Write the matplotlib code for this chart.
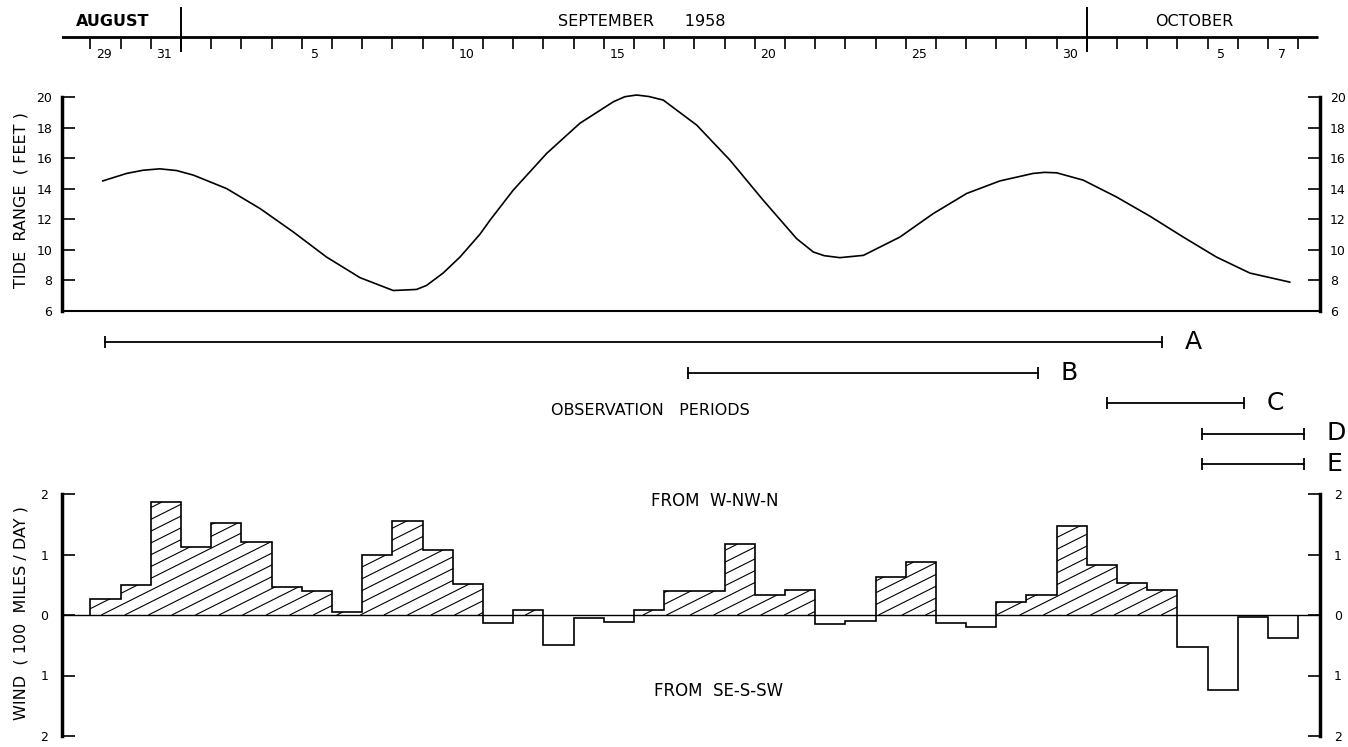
import numpy as np
import matplotlib
matplotlib.use('Agg')
import matplotlib.pyplot as plt
from matplotlib.collections import LineCollection

plt.rcParams['font.family'] = ['DejaVu Sans']

#%% data  (time axis in days, 0 = start of 1 September 1958)
tide_day = [-2.59, -1.80, -1.25, -0.70, -0.15, 0.41, 1.51, 2.62, 3.72, 4.82,
            5.93, 7.03, 7.80, 8.13, 8.68, 9.24, 9.90, 10.23, 11.00, 12.11,
            13.21, 14.32, 14.70, 15.09, 15.50, 15.97, 17.08, 18.18, 19.28, 20.39,
            20.94, 21.30, 21.82, 22.60, 23.81, 24.91, 26.02, 27.12, 28.22, 28.60,
            29.00, 29.88, 30.98, 32.09, 33.19, 34.29, 35.40, 36.72]
tide_ft = [14.51, 15.00, 15.21, 15.30, 15.19, 14.89, 14.01, 12.70, 11.17, 9.53,
           8.18, 7.34, 7.41, 7.67, 8.48, 9.53, 11.02, 11.93, 13.90, 16.31,
           18.28, 19.69, 20.02, 20.13, 20.03, 19.80, 18.16, 15.87, 13.25, 10.73,
           9.86, 9.62, 9.49, 9.64, 10.84, 12.37, 13.69, 14.51, 15.00, 15.07,
           15.04, 14.56, 13.46, 12.20, 10.84, 9.53, 8.48, 7.89]

# daily wind (100 miles/day), Aug 29 ... Oct 7; positive = from W-NW-N
wind_first_day = -3
wind_val = [0.27, 0.49, 1.86,
            1.12, 1.52, 1.21, 0.47, 0.39, 0.05, 0.99, 1.55, 1.07, 0.51,
            -0.13, 0.08, -0.49, -0.05, -0.11, 0.09, 0.40, 0.40, 1.17, 0.33,
            0.41, -0.15, -0.10, 0.63, 0.87, -0.14, -0.20, 0.21, 0.33, 1.47,
            0.83, 0.53, 0.42, -0.53, -1.24, -0.04, -0.38]

period_names = ['A', 'B', 'C', 'D', 'E']
period_start = [-2.52, 16.79, 30.66, 33.80, 33.80]
period_end = [32.48, 28.38, 35.20, 37.20, 37.20]

day_label_days = [-3, -1, 4, 9, 14, 19, 24, 29, 34, 36]
day_label_text = ['29', '31', '5', '10', '15', '20', '25', '30', '5', '7']
month_names = ['AUGUST', 'SEPTEMBER      1958', 'OCTOBER']
month_starts = [0, 30]

#%% layout helpers
W, H = 1348, 747
def box(x0, y0, x1, y1):
    return [x0 / W, 1 - y1 / H, (x1 - x0) / W, (y1 - y0) / H]

XL = (-3.94, 37.72)
month_label_x = [-2.25, 15.26, 33.54]
month_weight = ['bold', 'normal', 'normal']

fig = plt.figure(figsize=(W / 100, H / 100), dpi=100)

#%% date scale on top
ax_d = fig.add_axes(box(62, 0, 1320, 62))
ax_d.set_xlim(*XL)
ax_d.set_ylim(62, 0)
ax_d.axis('off')
ax_d.plot([-4.0, 37.65], [37, 37], color='k', lw=2.0, solid_capstyle='butt')
ax_d.vlines(np.arange(-3, 38), 37, 49, color='k', lw=1.2)
ax_d.vlines(month_starts, 7, 52, color='k', lw=1.4)
for d, t in zip(day_label_days, day_label_text):
    ax_d.text(d + 0.45, 55, t, ha='center', va='center', fontsize=9)
for x, m, fw in zip(month_label_x, month_names, month_weight):
    ax_d.text(x, 21, m, ha='center', va='center', fontsize=11.5, fontweight=fw)

#%% tide range
ax_t = fig.add_axes(box(62, 97, 1320, 311))
ax_t.plot(tide_day, tide_ft, color='k', lw=1.2, clip_on=False)
ax_t.set_xlim(*XL)
ax_t.set_ylim(6, 20)
ax_t.set_xticks([])
ax_t.set_yticks(range(6, 21, 2))
ax_t.spines['top'].set_visible(False)
for s in ['left', 'right']:
    ax_t.spines[s].set_linewidth(2.5)
ax_t.spines['bottom'].set_linewidth(1.5)
ax_t.tick_params(axis='y', direction='in', length=9, width=1.2, left=True, right=True,
                 labelleft=True, labelright=True, labelsize=9, pad=7)
fig.text(21 / W, 1 - 200 / H, 'TIDE  RANGE  ( FEET )', rotation=90,
         ha='center', va='center', fontsize=11.5)

#%% observation periods
ax_o = fig.add_axes(box(62, 326.75, 1320, 479.25))
ax_o.set_xlim(*XL)
ax_o.set_ylim(4.5, -0.5)
ax_o.axis('off')
for i, (n, s, e) in enumerate(zip(period_names, period_start, period_end)):
    ax_o.plot([s, e], [i, i], color='k', lw=1.3)
    ax_o.plot([s, e], [i, i], ls='none', marker='|', ms=9, mew=1.3, color='k')
    ax_o.text(e + 0.75, i, n, ha='left', va='center', fontsize=18)
ax_o.text(15.53, 2.26, 'OBSERVATION   PERIODS', ha='center', va='center', fontsize=11.5)

#%% wind
edges = np.arange(wind_first_day, wind_first_day + len(wind_val) + 1)
vals = np.array(wind_val)

ax_w = fig.add_axes(box(62, 494, 1320, 736))
ax_w.set_xlim(*XL)
ax_w.set_ylim(-2, 2)
ax_w.set_xticks([])
ax_w.set_yticks([-2, -1, 0, 1, 2])
ax_w.set_yticklabels(['2', '1', '0', '1', '2'])
for s in ['top', 'bottom']:
    ax_w.spines[s].set_visible(False)
for s in ['left', 'right']:
    ax_w.spines[s].set_linewidth(2.5)
ax_w.tick_params(axis='y', direction='in', length=9, width=1.2, left=True, right=True,
                 labelleft=True, labelright=True, labelsize=9, pad=10)
ax_w.axhline(0, color='k', lw=1.0)

# hatching of the positive part
clip = ax_w.stairs(np.clip(vals, 0, None), edges, baseline=0, fill=True,
                   facecolor='none', edgecolor='none')
segs = [[(c, 0), (c + 8, 2.0)] for c in np.arange(-12, 40, 0.78)]
lc = LineCollection(segs, colors='k', linewidths=0.8)
ax_w.add_collection(lc)
lc.set_clip_path(clip)

ax_w.stairs(vals, edges, baseline=0, color='k', lw=1.2)

ax_w.text(17.68, 1.88, 'FROM  W-NW-N', ha='center', va='center', fontsize=12)
ax_w.text(17.8, -1.26, 'FROM  SE-S-SW', ha='center', va='center', fontsize=12)
fig.text(21 / W, 1 - 613 / H, 'WIND  ( 100  MILES / DAY )', rotation=90,
         ha='center', va='center', fontsize=11.5)

fig.savefig('out.png', dpi=100)
